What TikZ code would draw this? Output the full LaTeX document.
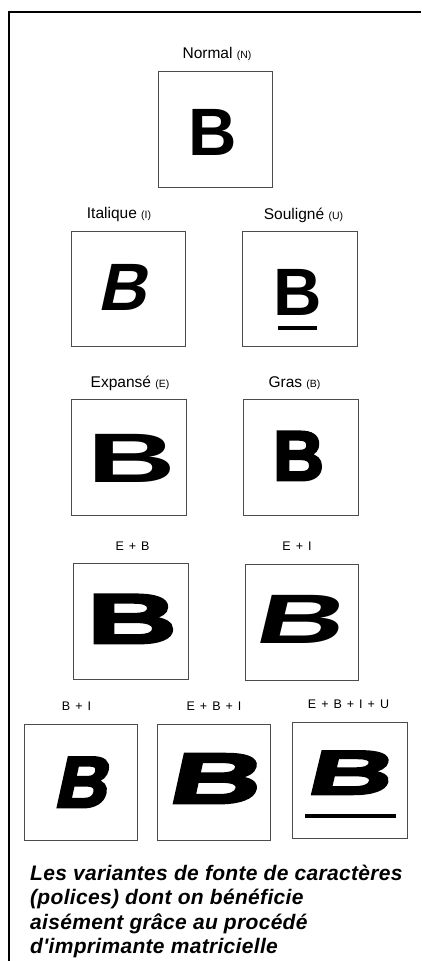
\documentclass[tikz,border=0pt]{standalone}
\usepackage{fontspec}
\setmainfont{Liberation Sans}
\newfontfamily\fB{Liberation Sans}
\newfontfamily\fBsl{Liberation Sans}[FakeSlant=0.22]
\newfontfamily\fBbold{Liberation Sans}[FakeBold=4]
\newfontfamily\fBex{Liberation Sans}[FakeStretch=1.75]
\newfontfamily\fBexb{Liberation Sans}[FakeStretch=1.8,FakeBold=4]
\newfontfamily\fBexi{Liberation Sans}[FakeStretch=1.75,FakeSlant=0.24]
\newfontfamily\fBbi{Liberation Sans}[FakeBold=4,FakeSlant=0.22]
\newfontfamily\fBebi{Liberation Sans}[FakeStretch=1.8,FakeBold=4,FakeSlant=0.22]
\newfontfamily\fBebiu{Liberation Sans}[FakeStretch=1.9,FakeBold=4,FakeSlant=0.24]
\newfontfamily\fCap{Liberation Sans}[LetterSpace=1.5]
\newcommand\pl{\hspace{0.4em}+\hspace{0.4em}}
\newcommand\sm[1]{{\fontsize{10.5}{10.5}\selectfont #1}}
\tikzset{
  frame/.style={line width=2.5pt, draw=black, line join=miter},
  cell/.style={draw=black!70, line width=0.9pt},
  lab/.style={anchor=base, inner sep=0pt, font=\fontsize{15.5}{15.5}\selectfont},
  combo/.style={anchor=base, inner sep=0pt, font=\fontsize{12.5}{12.5}\selectfont},
  glyph/.style={anchor=base, inner sep=0pt},
  uline/.style={line width=4pt, draw=black},
  capline/.style={anchor=base west, inner sep=0pt, font=\fCap\fontsize{21}{24.5}\selectfont\bfseries\itshape},
}
\begin{document}
\begin{tikzpicture}[x=1pt,y=1pt]
\useasboundingbox (0,0) rectangle (421,-961);
% frame
\draw[frame] (421,-12) -- (9,-12) -- (9,-961);

% boxes
\draw[cell] (158,-71) rectangle (272,-187);
\draw[cell] (71,-231) rectangle (185,-346);
\draw[cell] (242,-231) rectangle (357,-346);
\draw[cell] (71,-399) rectangle (186,-515);
\draw[cell] (243,-399) rectangle (358,-515);
\draw[cell] (73,-563) rectangle (188,-679);
\draw[cell] (245,-564) rectangle (358,-680);
\draw[cell] (24,-724) rectangle (137,-840);
\draw[cell] (157,-724) rectangle (270,-840);
\draw[cell] (292,-722) rectangle (407,-838);

% labels
\node[lab] (lN) at (217,-58) {Normal \sm{(N)}};
\node[lab] (lI) at (119,-218) {Italique \sm{(I)}};
\node[lab] (lU) at (303.5,-219) {Souligné \sm{(U)}};
\node[lab] (lE) at (130,-387) {Expansé \sm{(E)}};
\node[lab] (lG) at (294.5,-387) {Gras \sm{(B)}};
\node[combo] (lEB) at (132.5,-550) {E\pl B};
\node[combo] (lEI) at (297,-550) {E\pl I};
\node[combo] (lBI) at (76.5,-710) {B\pl I};
\node[combo] (lEBI) at (214,-710) {E\pl B\pl I};
\node[combo] (lEBIU) at (348.5,-708) {E\pl B\pl I\pl U};

% glyphs
\node[glyph, font=\fB\bfseries\fontsize{67}{67}\selectfont] (gN) at (213,-155) {B};
\node[glyph, font=\fBsl\bfseries\fontsize{67}{67}\selectfont] (gI) at (121.7,-310) {B};
\node[glyph, font=\fB\bfseries\fontsize{67}{67}\selectfont] (gU) at (297.5,-315) {B};
\draw[uline] (278,-328) -- (317,-328);
\node[glyph, font=\fBex\bfseries\fontsize{70}{70}\selectfont] (gE) at (131.5,-482) {B};
\node[glyph, font=\fBbold\bfseries\fontsize{70}{70}\selectfont] (gG) at (298.5,-480) {B};
\node[glyph, font=\fBexb\bfseries\fontsize{70}{70}\selectfont] (gEB) at (132,-643) {B};
\node[glyph, font=\fBexi\bfseries\fontsize{70}{70}\selectfont] (gEI) at (296.5,-643) {B};
\node[glyph, font=\fBbi\bfseries\fontsize{72}{72}\selectfont] (gBI) at (79.3,-807) {B};
\node[glyph, font=\fBebi\bfseries\fontsize{71}{71}\selectfont] (gEBI) at (211.9,-803) {B};
\node[glyph, font=\fBebiu\bfseries\fontsize{62}{62}\selectfont] (gEBIU) at (347,-794) {B};
\draw[uline] (305,-816) -- (396,-816);

% caption
\node[capline] (c1) at (30,-880) {Les variantes de fonte de caractères};
\node[capline] (c2) at (30,-904.5) {(polices) dont on bénéficie};
\node[capline] (c3) at (30,-929) {aisément grâce au procédé};
\node[capline] (c4) at (30,-953.5) {d'imprimante matricielle};
\end{tikzpicture}
\end{document}
